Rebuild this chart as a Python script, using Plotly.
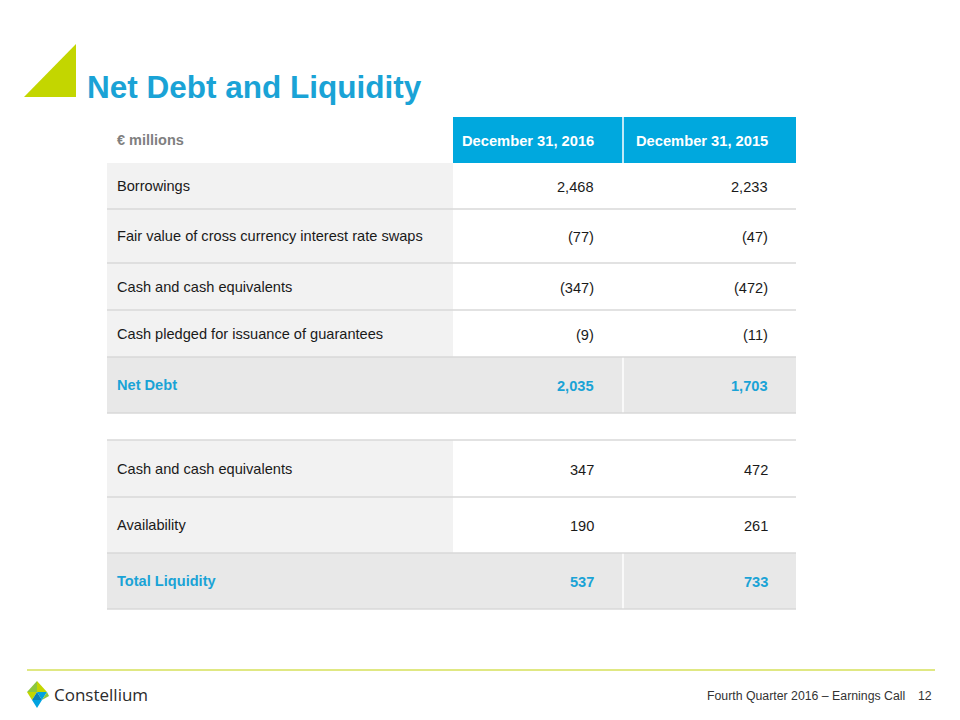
import plotly.graph_objects as go

# ---------------- data ----------------
title = "Net Debt and Liquidity"
unit_label = "€ millions"
col_headers = ["December 31, 2016", "December 31, 2015"]

debt_labels = ["Borrowings",
               "Fair value of cross currency interest rate swaps",
               "Cash and cash equivalents",
               "Cash pledged for issuance of guarantees",
               "Net Debt"]
debt_2016 = [2468, -77, -347, -9, 2035]
debt_2015 = [2233, -47, -472, -11, 1703]

liq_labels = ["Cash and cash equivalents", "Availability", "Total Liquidity"]
liq_2016 = [347, 190, 537]
liq_2015 = [472, 261, 733]

footer_text = "Fourth Quarter 2016 \u2013 Earnings Call"
page_no = "12"
company = "Constellium"

# ---------------- layout / style ----------------
W, H = 960, 720
BLUE = "#00a8de"
TXT_BLUE = "#1aa3d6"
LIME = "#c3d600"
LABEL_BG = "#f2f2f2"
TOTAL_BG = "#e8e8e8"
RULE = "#d9d9d9"
TXT = "#1a1a1a"
FONT = "Liberation Sans, Arial, sans-serif"

col_edges = [107, 453, 623, 796]
header_rows = (117, 163)
debt_edges = [163, 209, 263, 310, 357, 413]
liq_edges = [440, 497, 553, 609]
LABEL_X = 115
V1_X, V2_X = 596, 770

def fmt(v):
    s = f"{abs(v):,}"
    return f"({s})" if v < 0 else s

shapes = []
ann = []

def rect(x0, y0, x1, y1, color):
    shapes.append(dict(type="rect", xref="x", yref="y", x0=x0, x1=x1, y0=y0, y1=y1,
                       fillcolor=color, line=dict(width=0), layer="below"))

def hline(y, x0, x1, color=RULE, w=1.5):
    shapes.append(dict(type="line", xref="x", yref="y", x0=x0, x1=x1, y0=y, y1=y,
                       line=dict(color=color, width=w)))

def vline(x, y0, y1, color="white", w=1.5):
    shapes.append(dict(type="line", xref="x", yref="y", x0=x, x1=x, y0=y0, y1=y1,
                       line=dict(color=color, width=w)))

def text(x, y, s, size=15, color=TXT, bold=False, anchor="left", family=FONT):
    ann.append(dict(x=x, y=y, xref="x", yref="y", text=f"<b>{s}</b>" if bold else s,
                    showarrow=False, xanchor=anchor, yanchor="middle",
                    font=dict(size=size, color=color, family=family)))

# title + triangle
shapes.append(dict(type="path", xref="x", yref="y", path="M 24 97 L 76 44 L 76 97 Z",
                   fillcolor=LIME, line=dict(width=0)))
text(85, 87, title, size=31.5, color=TXT_BLUE, bold=True)

# header
rect(col_edges[1], header_rows[0], col_edges[3], header_rows[1], BLUE)
vline(col_edges[2], header_rows[0], header_rows[1])
hy = (header_rows[0] + header_rows[1]) / 2
text(LABEL_X, hy, unit_label, size=14.5, color="#7f7f7f", bold=True)
text(V1_X, hy + 1, col_headers[0], size=14.7, color="white", bold=True, anchor="right")
text(V2_X, hy + 1, col_headers[1], size=14.7, color="white", bold=True, anchor="right")

def draw_block(edges, labels, v1, v2):
    n = len(labels)
    for i in range(n):
        y0, y1 = edges[i], edges[i + 1]
        total = (i == n - 1)
        if total:
            rect(col_edges[0], y0, col_edges[3], y1, TOTAL_BG)
            vline(col_edges[2], y0, y1)
        else:
            rect(col_edges[0], y0, col_edges[1], y1, LABEL_BG)
        yc = (y0 + y1) / 2
        c = TXT_BLUE if total else TXT
        text(LABEL_X, yc, labels[i], size=14.6, color=c, bold=total)
        text(V1_X, yc + 1, fmt(v1[i]), size=14.6, color=c, bold=total, anchor="right")
        text(V2_X, yc + 1, fmt(v2[i]), size=14.6, color=c, bold=total, anchor="right")
    for y in edges[1:]:
        hline(y, col_edges[0], col_edges[3])

draw_block(debt_edges, debt_labels, debt_2016, debt_2015)
hline(liq_edges[0], col_edges[0], col_edges[3])
draw_block(liq_edges, liq_labels, liq_2016, liq_2015)

# footer
hline(670, 27, 935, color="#d6e05a", w=1.5)
logo = [
    ("M 37 681 L 27 692 L 37 692 Z", "#8cc63f"),
    ("M 37 681 L 37 692 L 47 692 Z", "#c3d600"),
    ("M 27 692 L 37 692 L 32 700 Z", "#c3d600"),
    ("M 37 692 L 47 692 L 42 700 Z", "#00a3e0"),
    ("M 32 700 L 37 692 L 42 700 Z", "#0a7fb8"),
    ("M 32 700 L 42 700 L 37 708 Z", "#00a3e0"),
    ("M 42 700 L 47 692 L 49 696 Z", "#8cc63f"),
]
for p, c in logo:
    shapes.append(dict(type="path", xref="x", yref="y", path=p, fillcolor=c, line=dict(width=0)))
text(52, 694, company, size=17, color="#2b2b2b", family="Open Sans, sans-serif")
text(907, 696, footer_text, size=12.3, color="#333333", anchor="right")
text(934, 696, page_no, size=12.3, color="#333333", anchor="right")

fig = go.Figure()
fig.update_layout(
    width=W, height=H, margin=dict(l=0, r=0, t=0, b=0),
    paper_bgcolor="white", plot_bgcolor="white",
    xaxis=dict(range=[0, W], visible=False, fixedrange=True),
    yaxis=dict(range=[H, 0], visible=False, fixedrange=True),
    shapes=shapes, annotations=ann, showlegend=False,
)
fig.write_html("out.html", config={"displayModeBar": False},
               post_script="document.body.style.margin='0';")
